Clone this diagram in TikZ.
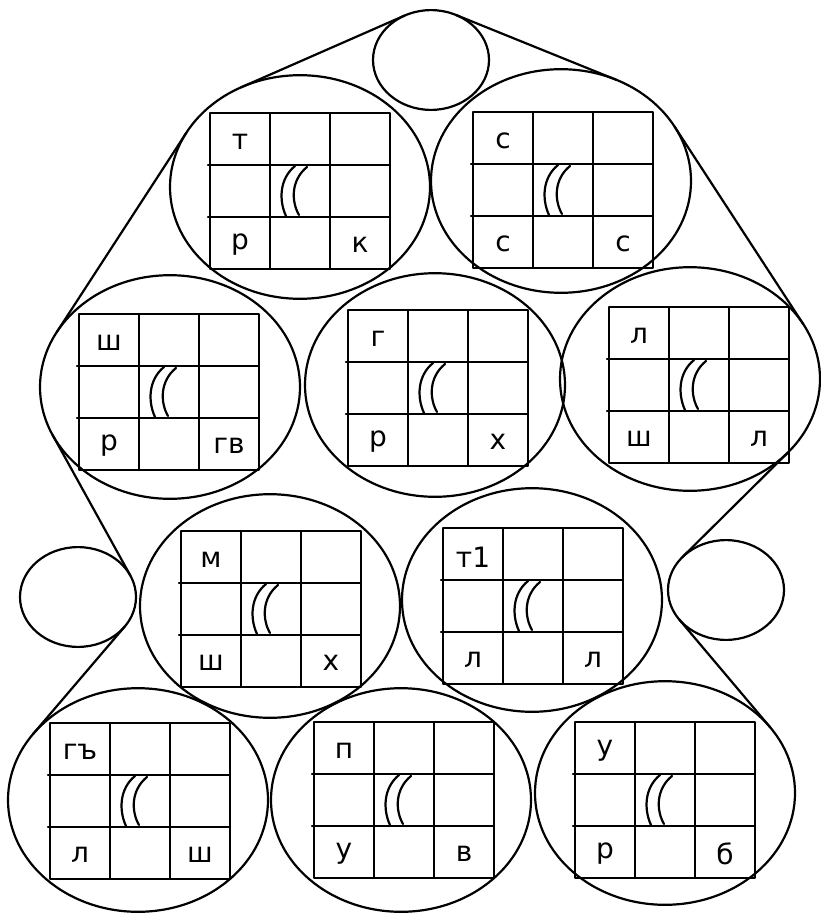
\documentclass[tikz,border=0pt]{standalone}
\usepackage{fontspec}
\setmainfont{DejaVu Sans}
\usetikzlibrary{shapes.geometric}

\begin{document}
\begin{tikzpicture}[
  x=1pt, y=-1pt,
  line width=2.2pt, line cap=round, line join=round,
  bubble/.style={ellipse, draw, minimum width=260pt, minimum height=223.6pt, inner sep=0pt},
  bead/.style={ellipse, draw, minimum width=116pt, minimum height=99.8pt, inner sep=0pt},
  letter/.style={inner sep=0pt, font=\fontsize{28}{30}\selectfont},
  pics/board/.style n args={3}{code={
    \draw (-90,-78) rectangle (90,78);
    \draw (-92,-26) -- (90,-26) (-92,26) -- (90,26);
    \draw (-30,-78) -- (-30,78) (30,-78) -- (30,78);
    \draw (-5,-25) .. controls (-21,-12) and (-21,10) .. (-14,25);
    \draw (7,-24) .. controls (-9,-11) and (-9,10) .. (-1,24);
    \node[letter] (-tl) at (-60,-49) {#1};
    \node[letter] (-bl) at (-60,54) {#2};
    \node[letter] (-br) at (60,54) {#3};
  }}
]
\useasboundingbox (0,0) rectangle (821,913);

% circles
\node[bead] (top) at (431,60) {};
\node[bubble] (A) at (300,187) {};
\node[bubble] (B) at (561,181) {};
\node[bubble] (C) at (170,387) {};
\node[bubble] (D) at (435,385) {};
\node[bubble] (E) at (690,379) {};
\node[bead] (sl) at (78,597) {};
\node[bubble] (F) at (270,606) {};
\node[bubble] (G) at (532,600) {};
\node[bead] (sr) at (726,590) {};
\node[bubble] (H) at (138,800) {};
\node[bubble] (I) at (401,800) {};
\node[bubble] (J) at (665,793) {};

% boards
\pic (gA) at (300,191) {board={т}{р}{к}};
\pic (gB) at (563,190) {board={с}{с}{с}};
\pic (gC) at (169,392) {board={ш}{р}{гв}};
\pic (gD) at (438,388) {board={г}{р}{х}};
\pic (gE) at (699,385) {board={л}{ш}{л}};
\pic (gF) at (271,609) {board={м}{ш}{х}};
\pic (gG) at (533,606) {board={т1}{л}{л}};
\pic (gH) at (140,801) {board={гъ}{л}{ш}};
\pic (gI) at (404,800) {board={п}{у}{в}};
\pic (gJ) at (665,800) {board={у}{р}{б}};

% tangent points
\path (top.center) ++(243.0:58 and 49.9) coordinate (l1);
\path (A.center) ++(243.0:130 and 111.8) coordinate (l2);
\path (A.center) ++(209.2:130 and 111.8) coordinate (l3);
\path (C.center) ++(209.2:130 and 111.8) coordinate (l4);
\path (C.center) ++(154.6:130 and 111.8) coordinate (l5);
\path (sl.center) ++(334.6:58 and 49.9) coordinate (l6);
\path (sl.center) ++(36.3:58 and 49.9) coordinate (l7);
\path (H.center) ++(216.3:130 and 111.8) coordinate (l8);
\path (top.center) ++(295.2:58 and 49.9) coordinate (r1);
\path (B.center) ++(295.2:130 and 111.8) coordinate (r2);
\path (B.center) ++(330.7:130 and 111.8) coordinate (r3);
\path (E.center) ++(330.7:130 and 111.8) coordinate (r4);
\path (E.center) ++(41.0:130 and 111.8) coordinate (r5);
\path (sr.center) ++(221.0:58 and 49.9) coordinate (r6);
\path (sr.center) ++(144.0:58 and 49.9) coordinate (r7);
\path (J.center) ++(324.0:130 and 111.8) coordinate (r8);

% outline
\draw (l1) -- (l2);
\draw (l3) -- (l4);
\draw (l5) -- (l6);
\draw (l7) -- (l8);
\draw (r1) -- (r2);
\draw (r3) -- (r4);
\draw (r5) -- (r6);
\draw (r7) -- (r8);

\end{tikzpicture}
\end{document}
